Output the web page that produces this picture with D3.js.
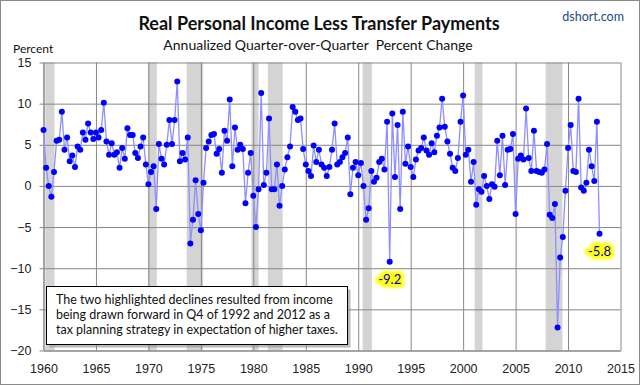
<!DOCTYPE html>
<html>
<head>
<meta charset="utf-8">
<script src="https://cdn.jsdelivr.net/npm/d3@7/dist/d3.min.js"></script>
<style>
  html, body { margin: 0; padding: 0; background: #fff; }
  svg { display: block; font-family: Lato, "Open Sans", sans-serif; }
</style>
</head>
<body>
<svg id="chart" width="640" height="385"></svg>
<script>
// quarterly series, 1960 Q1 .. 2013 Q1
const startYear = 1960;
const pctChange = [
  6.8, 2.2, 0.0, -1.3,   1.7, 5.5, 5.6, 9.0,   4.4, 5.9, 3.0, 3.7,   2.3, 4.8, 4.4, 6.5,
  5.6, 7.6, 6.5, 5.7,    6.5, 5.9, 6.8, 10.1,  5.4, 3.8, 5.2, 3.8,   4.1, 2.2, 4.6, 3.3,
  7.0, 6.2, 6.2, 4.0,    3.4, 4.8, 5.9, 2.6,   0.2, 1.7, 2.4, -2.8,  5.1, 3.3, 2.6, 5.0,
  8.0, 5.1, 8.0, 12.7,   3.0, 4.0, 3.2, 5.9,   -7.0, -4.1, 0.7, -3.4, -5.4, 0.4, 4.6, 5.4,
  6.2, 6.3, 3.9, 4.5,    1.6, 6.7, 5.5, 10.5,  2.4, 7.1, 4.4, 5.0,   4.5, -2.1, 1.6, 4.0,
  -1.2, -5.0, -0.4, 11.3, 0.1, 1.6, 8.2, -0.4, -0.4, 2.6, -2.4, 0.0, 2.0, 3.5, 4.8, 9.6,
  9.0, 8.0, 8.2, 4.5,    2.6, 1.8, 1.2, 4.9,   2.9, 4.4, 2.6, 2.2,   1.2, 2.3, 4.4, 7.6,
  2.6, 2.9, 3.5, 4.0,    5.9, -1.0, 2.2, 2.9,  1.3, 2.8, 0.0, -4.1,  -2.7, 1.8, 0.5, 1.0,
  2.9, 3.3, 2.0, 7.8,    -9.2, 8.8, 1.1, 7.4,  -2.8, 9.0, 2.7, 4.8,  2.3, 1.1, 3.2, 4.3,
  4.6, 5.9, 4.3, 3.8,    5.2, 4.1, 6.1, 7.1,   10.6, 7.2, 5.4, 3.9,  2.2, 1.8, 3.4, 7.8,
  11.0, 3.8, 4.4, 0.5,   2.9, -2.3, -0.4, -0.7, 1.2, 0.0, -1.6, 0.2, -0.1, 5.5, 1.3, 6.1,
  0.1, 4.4, 4.5, 6.3,    -3.4, 3.3, 3.7, 3.2,  9.4, 3.4, 1.8, 6.7,   1.8, 1.7, 1.6, 2.0,
  5.1, -3.5, -3.9, -2.2, -17.2, -8.7, -6.2, -0.6, 4.6, 7.4, 1.8, 1.7, 10.6, -0.2, -0.6, 0.4,
  4.4, 2.4, 0.6, 7.8,    -5.8,
];

// recession shading, decimal years
const recessions = [
  [1960.17, 1961.05],
  [1969.95, 1970.8],
  [1973.65, 1975.22],
  [1979.82, 1980.5],
  [1981.38, 1982.8],
  [1990.42, 1991.3],
  [2001.1, 2001.84],
  [2007.87, 2009.46],
];

const xTicks = d3.range(1960, 2016, 5);
const yTicks = d3.range(-20, 16, 5);

const callouts = [
  { index: 132, label: '-9.2' },
  { index: 212, label: '-5.8' },
];

const noteLines = [
  'The two highlighted declines resulted from income',
  'being drawn forward in Q4 of 1992 and 2012 as a',
  'tax planning strategy in expectation of higher taxes.',
];

const series = pctChange.map((value, i) => ({ date: startYear + i / 4, value }));

const width = 640;
const height = 385;
const plot = { left: 43.5, right: 620.5, top: 62.5, bottom: 350.5 };

const svg = d3.select('#chart');

const x = d3.scaleLinear().domain([1960, 2015]).range([plot.left, plot.right]);
const y = d3.scaleLinear().domain([-20, 15]).range([plot.bottom, plot.top]);

// outer frame
svg
  .append('rect')
  .attr('x', 0.5)
  .attr('y', 0.5)
  .attr('width', width - 1)
  .attr('height', height - 1)
  .attr('fill', '#fff')
  .attr('stroke', '#8a8a8a');

// recession bands
svg
  .append('g')
  .selectAll('rect')
  .data(recessions)
  .enter()
  .append('rect')
  .attr('x', (d) => x(d[0]))
  .attr('width', (d) => x(d[1]) - x(d[0]))
  .attr('y', plot.top)
  .attr('height', plot.bottom - plot.top)
  .attr('fill', '#d4d4d4');

// gridlines
svg
  .append('g')
  .attr('transform', `translate(${plot.left}, 0)`)
  .call(d3.axisLeft(y).tickValues(yTicks).tickSize(-(plot.right - plot.left)).tickFormat(''))
  .call((g) => g.select('.domain').remove())
  .call((g) => g.selectAll('line').attr('stroke', '#878787'));

svg
  .append('g')
  .attr('transform', `translate(0, ${plot.bottom})`)
  .call(d3.axisBottom(x).tickValues(xTicks).tickSize(-(plot.bottom - plot.top)).tickFormat(''))
  .call((g) => g.select('.domain').remove())
  .call((g) => g.selectAll('line').attr('stroke', '#878787'));

// y axis
svg
  .append('g')
  .attr('transform', `translate(${plot.left}, 0)`)
  .call(d3.axisLeft(y).tickValues(yTicks).tickSize(4).tickPadding(8).tickSizeOuter(0))
  .call((g) => g.selectAll('path, line').attr('stroke', '#878787'))
  .call((g) => g.selectAll('text').attr('fill', '#222').attr('font-size', 12.5));

// x axis
svg
  .append('g')
  .attr('transform', `translate(0, ${plot.bottom})`)
  .call(d3.axisBottom(x).tickValues(xTicks).tickFormat(d3.format('d')).tickSize(0).tickPadding(14).tickSizeOuter(0))
  .call((g) => g.selectAll('path, line').attr('stroke', '#878787'))
  .call((g) => g.selectAll('text').attr('fill', '#222').attr('font-size', 12.5));

// series
const line = d3
  .line()
  .x((d) => x(d.date))
  .y((d) => y(d.value));

svg
  .append('path')
  .datum(series)
  .attr('fill', 'none')
  .attr('stroke', '#8f8fff')
  .attr('stroke-width', 1.3)
  .attr('d', line);

svg
  .append('g')
  .selectAll('circle')
  .data(series)
  .enter()
  .append('circle')
  .attr('cx', (d) => x(d.date))
  .attr('cy', (d) => y(d.value))
  .attr('r', 3)
  .attr('fill', '#0000ff');

// highlighted values
const defs = svg.append('defs');
defs
  .append('filter')
  .attr('id', 'glow')
  .attr('x', '-50%')
  .attr('y', '-50%')
  .attr('width', '200%')
  .attr('height', '200%')
  .append('feGaussianBlur')
  .attr('stdDeviation', 1.6);

const callout = svg
  .append('g')
  .selectAll('g')
  .data(callouts)
  .enter()
  .append('g')
  .attr('transform', (d) => `translate(${x(series[d.index].date)}, ${y(series[d.index].value) + 18})`);

callout
  .append('text')
  .attr('text-anchor', 'middle')
  .attr('dy', '0.35em')
  .attr('font-size', 13)
  .attr('font-weight', 'bold')
  .attr('fill', '#ffff00')
  .attr('stroke', '#ffff00')
  .attr('stroke-width', 7)
  .attr('stroke-linejoin', 'round')
  .attr('filter', 'url(#glow)')
  .text((d) => d.label);

callout
  .append('text')
  .attr('text-anchor', 'middle')
  .attr('dy', '0.35em')
  .attr('font-size', 13)
  .attr('fill', '#0000c8')
  .text((d) => d.label);

// note box
const note = svg.append('g').attr('transform', 'translate(46.5, 286.5)');
note
  .append('rect')
  .attr('x', 3)
  .attr('y', 3)
  .attr('width', 301)
  .attr('height', 58)
  .attr('fill', '#8c8c8c')
  .attr('opacity', 0.6);
note
  .append('rect')
  .attr('width', 301)
  .attr('height', 58)
  .attr('fill', '#fff')
  .attr('stroke', '#000');
note
  .selectAll('text')
  .data(noteLines)
  .enter()
  .append('text')
  .attr('x', 9.5)
  .attr('y', (d, i) => 17.5 + i * 15.2)
  .attr('font-size', 12.5)
  .attr('fill', '#111')
  .text((d) => d);

// titles
svg
  .append('text')
  .attr('x', 319)
  .attr('y', 30)
  .attr('text-anchor', 'middle')
  .attr('font-size', 18)
  .attr('font-weight', 'bold')
  .attr('fill', '#111')
  .text('Real Personal Income Less Transfer Payments');

svg
  .append('text')
  .attr('x', 318)
  .attr('y', 49.5)
  .attr('text-anchor', 'middle')
  .attr('font-size', 14)
  .attr('fill', '#111')
  .text('Annualized Quarter-over-Quarter  Percent Change')
  .style('white-space', 'pre');

svg
  .append('text')
  .attr('x', 624)
  .attr('y', 21)
  .attr('text-anchor', 'end')
  .attr('font-size', 12.5)
  .attr('fill', '#1f497d')
  .text('dshort.com');

svg
  .append('text')
  .attr('x', 13)
  .attr('y', 53)
  .attr('font-size', 12)
  .attr('fill', '#111')
  .text('Percent');
</script>
</body>
</html>
